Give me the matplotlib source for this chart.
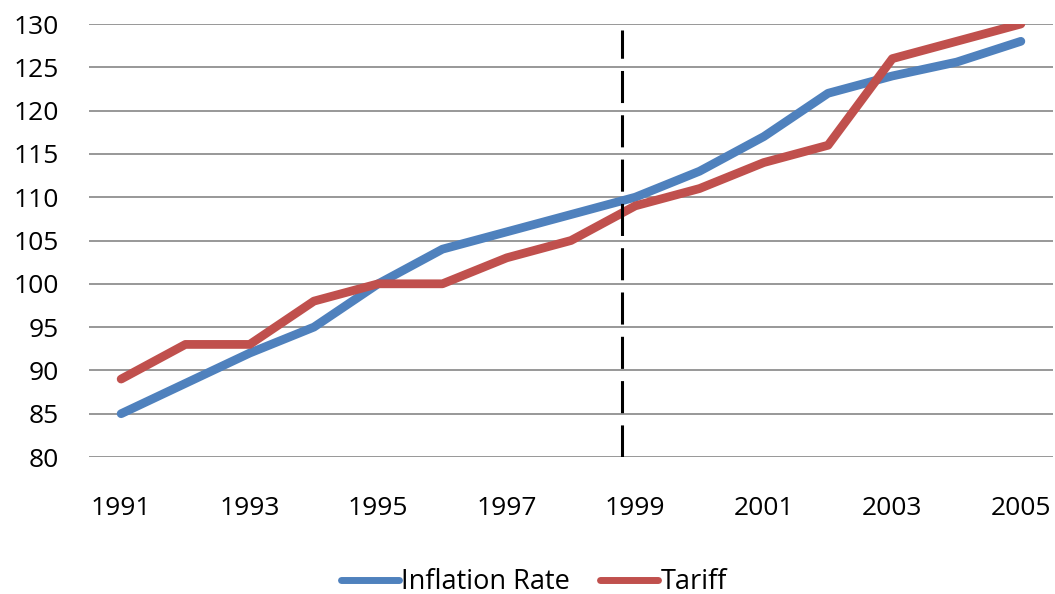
import numpy as np
import matplotlib
matplotlib.use("Agg")
import matplotlib.pyplot as plt

plt.rcParams['font.family'] = ['Open Sans', 'DejaVu Sans']

# data
years = list(range(1991, 2006))
inflation = [85, 88.5, 92, 95, 100, 104, 106, 108, 110, 113, 117, 122, 124, 125.6, 128]
tariff = [89, 93, 93, 98, 100, 100, 103, 105, 109, 111, 114, 116, 126, 128, 130]
label_years = years[::2]
break_year = 1998.8

fig = plt.figure(figsize=(10.55, 5.94), dpi=100)
ax = fig.add_axes([89 / 1055, 1 - 457 / 594, (1053 - 89) / 1055, (457 - 24) / 594])

ax.plot(years, inflation, color='#4F81BD', lw=6.3, solid_capstyle='round',
        solid_joinstyle='round', label='Inflation Rate', zorder=3)
ax.plot(years, tariff, color='#C0504D', lw=6.3, solid_capstyle='round',
        solid_joinstyle='round', label='Tariff', zorder=3)

# vertical dashed marker
ax.plot([break_year, break_year], [80, 129.3], color='black', lw=2.2,
        linestyle=(0, (10.5, 4)), zorder=4)

ax.set_xlim(1990.5, 2005.5)
ax.set_ylim(80, 130)
ax.set_yticks(np.arange(80, 131, 5))
ax.set_xticks(label_years)
ax.set_xticklabels([str(y) for y in label_years])
ax.yaxis.grid(True, color='#868686', lw=1.2)
ax.set_axisbelow(True)
for s in ax.spines.values():
    s.set_visible(False)
ax.tick_params(axis='both', length=0, labelsize=19)
ax.tick_params(axis='y', pad=22)
ax.tick_params(axis='x', pad=28)

leg = fig.legend(loc='center', bbox_to_anchor=(534 / 1055, 1 - 582 / 594), ncol=2,
                 frameon=False, fontsize=19.5, handlelength=2.15, handletextpad=0.1,
                 columnspacing=1.1)
for h in leg.legend_handles:
    h.set_linewidth(5)
    h.set_solid_capstyle('round')

fig.savefig('out.png', dpi=100)
